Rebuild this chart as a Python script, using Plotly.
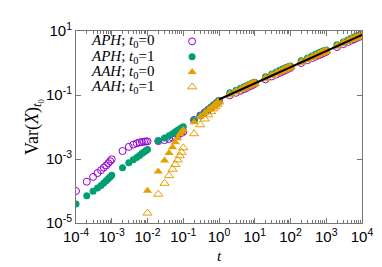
import plotly.graph_objects as go

# time grid (k x 10^d)
t = [1e-4, 2e-4, 3e-4, 4e-4, 5e-4, 6e-4, 7e-4, 8e-4, 9e-4,
     1e-3, 2e-3, 3e-3, 4e-3, 5e-3, 6e-3, 7e-3, 8e-3, 9e-3,
     1e-2, 2e-2, 3e-2, 4e-2, 5e-2, 6e-2, 7e-2, 8e-2, 9e-2,
     1e-1, 2e-1, 3e-1, 4e-1, 5e-1, 6e-1, 7e-1, 8e-1, 9e-1,
     1, 2, 3, 4, 5, 6, 7, 8, 9,
     10, 20, 30, 40, 50, 60, 70, 80, 90,
     100, 200, 300, 400, 500, 600, 700, 800, 900,
     1000, 2000, 3000, 4000, 5000, 6000, 7000, 8000, 9000, 10000]

# log10 Var(X)_{t0}
aph_t0_0 = [-4.00, -3.71, -3.56, -3.44, -3.35, -3.27, -3.20, -3.13, -3.07,
            -3.01, -2.75, -2.62, -2.55, -2.51, -2.48, -2.47, -2.46, -2.45,
            -2.45, -2.44, -2.41, -2.37, -2.33, -2.29, -2.25, -2.21, -2.18,
            -2.15, -1.78, -1.64, -1.54, -1.46, -1.39, -1.33, -1.28, -1.23,
            -1.18, -1.01, -0.93, -0.87, -0.82, -0.78, -0.74, -0.71, -0.68,
            -0.65, -0.51, -0.42, -0.36, -0.31, -0.27, -0.23, -0.20, -0.17,
            -0.15, 0.00, 0.09, 0.15, 0.20, 0.24, 0.27, 0.30, 0.33,
            0.35, 0.50, 0.59, 0.65, 0.70, 0.74, 0.78, 0.81, 0.83, 0.86]

aph_t0_1 = [-4.41, -4.15, -4.01, -3.91, -3.83, -3.75, -3.68, -3.62, -3.56,
            -3.51, -3.27, -3.12, -3.02, -2.95, -2.89, -2.83, -2.78, -2.74,
            -2.70, -2.43, -2.34, -2.27, -2.21, -2.15, -2.10, -2.06, -2.02,
            -1.99, -1.80, -1.65, -1.54, -1.45, -1.38, -1.32, -1.27, -1.22,
            -1.17, -0.93, -0.85, -0.79, -0.74, -0.70, -0.67, -0.64, -0.62,
            -0.60, -0.43, -0.34, -0.28, -0.23, -0.19, -0.16, -0.13, -0.11,
            -0.09, 0.07, 0.16, 0.22, 0.27, 0.31, 0.34, 0.37, 0.39,
            0.41, 0.57, 0.66, 0.72, 0.77, 0.81, 0.84, 0.87, 0.89, 0.91]

aah_t0_0 = [None] * 18 + [
            -3.99, -3.39, -3.05, -2.81, -2.63, -2.48, -2.35, -2.23, -2.15,
            -2.09, -1.85, -1.68, -1.56, -1.47, -1.40, -1.34, -1.28, -1.23,
            -1.18, -0.96, -0.87, -0.81, -0.76, -0.72, -0.68, -0.65, -0.63,
            -0.61, -0.45, -0.36, -0.30, -0.25, -0.21, -0.18, -0.15, -0.13,
            -0.11, 0.05, 0.14, 0.20, 0.25, 0.29, 0.32, 0.35, 0.37,
            0.39, 0.55, 0.64, 0.70, 0.75, 0.79, 0.82, 0.85, 0.87, 0.89]

aah_t0_1 = [None] * 18 + [
            -4.69, -4.10, -3.76, -3.52, -3.32, -3.17, -3.03, -2.90, -2.79,
            -2.65, -2.21, -1.93, -1.75, -1.62, -1.52, -1.43, -1.36, -1.29,
            -1.22, -0.99, -0.90, -0.84, -0.79, -0.75, -0.71, -0.68, -0.66,
            -0.64, -0.48, -0.39, -0.33, -0.28, -0.24, -0.21, -0.18, -0.15,
            -0.13, 0.02, 0.11, 0.17, 0.22, 0.26, 0.30, 0.33, 0.35,
            0.37, 0.53, 0.62, 0.68, 0.73, 0.77, 0.80, 0.83, 0.86, 0.88]

fit_t = [1, 10000]
fit_logv = [-1.14, 0.88]

labels = ["<i>APH</i>; <i>t</i><sub>0</sub>=0", "<i>APH</i>; <i>t</i><sub>0</sub>=1",
          "<i>AAH</i>; <i>t</i><sub>0</sub>=0", "<i>AAH</i>; <i>t</i><sub>0</sub>=1"]

xtick_vals = [1e-4, 1e-3, 1e-2, 1e-1, 1, 10, 100, 1000, 10000]
xtick_text = ["10<sup>-4</sup>", "10<sup>-3</sup>", "10<sup>-2</sup>", "10<sup>-1</sup>",
              "10<sup>0</sup>", "10<sup>1</sup>", "10<sup>2</sup>", "10<sup>3</sup>", "10<sup>4</sup>"]
ytick_vals = [1e-5, 1e-3, 1e-1, 10]
ytick_text = ["10<sup>-5</sup>", "10<sup>-3</sup>", "10<sup>-1</sup>", "10<sup>1</sup>"]

PURPLE = "#9400d3"
GREEN = "#009e73"
ORANGE = "#e69f00"

def lin(vals):
    return [None if v is None else 10 ** v for v in vals]

styles = [
    dict(symbol="circle-open", size=7, color=PURPLE, line=dict(width=1, color=PURPLE)),
    dict(symbol="circle", size=7, color=GREEN),
    dict(symbol="triangle-up", size=8, color=ORANGE),
    dict(symbol="triangle-up-open", size=8, color=ORANGE, line=dict(width=1, color=ORANGE)),
]
series = [aph_t0_0, aph_t0_1, aah_t0_0, aah_t0_1]

fig = go.Figure()
for s, st in zip(series, styles):
    fig.add_trace(go.Scatter(x=t, y=lin(s), mode="markers", marker=st,
                             showlegend=False, cliponaxis=True))

fig.add_trace(go.Scatter(x=fit_t, y=lin(fit_logv), mode="lines",
                         line=dict(color="black", width=2), showlegend=False))

# custom legend (text left, symbol right, gnuplot style)
leg_y = [0.946, 0.866, 0.787, 0.709]
leg_sym_x = 0.406
for i, (lab, st) in enumerate(zip(labels, styles)):
    fig.add_annotation(x=0.045, y=leg_y[i], xref="paper", yref="paper",
                       text=lab, showarrow=False, xanchor="left", yanchor="middle",
                       font=dict(family="Liberation Serif", size=15, color="black"))
    fig.add_trace(go.Scatter(x=[leg_sym_x], y=[leg_y[i]], xaxis="x2", yaxis="y2",
                             mode="markers", marker=st, showlegend=False, hoverinfo="skip"))

axis_common = dict(showline=True, linecolor="#777", linewidth=1, mirror="allticks",
                   ticks="inside", tickcolor="#777", showgrid=False, zeroline=False,
                   tickfont=dict(family="Liberation Sans", size=15, color="black"))

fig.update_layout(
    width=382, height=267,
    margin=dict(l=68, r=28, t=16, b=52),
    paper_bgcolor="white", plot_bgcolor="white",
    font=dict(color="black", family="Liberation Sans"),
    xaxis=dict(type="log", range=[-4, 4], tickmode="array", tickvals=xtick_vals,
               ticktext=xtick_text, ticklen=5,
               minor=dict(ticks="inside", ticklen=3, tickcolor="#777",
                          tickvals=[k * 10 ** d for d in range(-4, 4) for k in range(2, 10)]),
               title=dict(text="<i>t</i>", font=dict(family="Liberation Serif", size=15,
                                                     color="black"),
                          standoff=6),
               **axis_common),
    yaxis=dict(type="log", range=[-5, 1], tickmode="array", tickvals=ytick_vals,
               ticktext=ytick_text, ticklen=5,
               title=dict(text="Var(<i>X</i>)<sub><i>t</i><sub>0</sub></sub>",
                          font=dict(family="Liberation Serif", size=18, color="black"),
                          standoff=2),
               **axis_common),
    xaxis2=dict(overlaying="x", range=[0, 1], visible=False, fixedrange=True),
    yaxis2=dict(overlaying="y", range=[0, 1], visible=False, fixedrange=True),
)

fig.write_html("out.html")
